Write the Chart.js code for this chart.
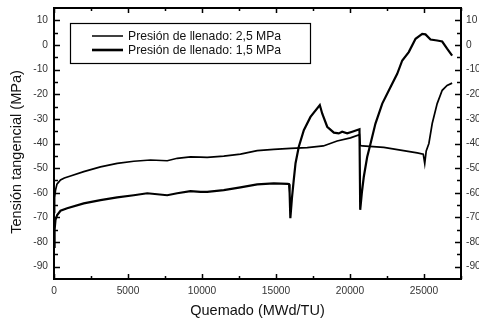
<!DOCTYPE html>
<html>
<head>
<meta charset="utf-8">
<script src="https://cdn.jsdelivr.net/npm/chart.js@4/dist/chart.umd.min.js"></script>
<style>
  html, body { margin: 0; padding: 0; background: #fff; }
  #wrap { width: 479px; height: 322px; }
</style>
</head>
<body>
<div id="wrap"><canvas id="c" width="479" height="322"></canvas></div>
<script>
// Tangential cladding stress vs. burnup for two fill pressures
const burnup25 = [0, 40, 100, 200, 440, 700, 1115, 2010, 3140, 4270, 5390, 6520, 7650, 8325, 9220, 9900,
  10350, 11470, 12600, 13730, 14850, 15980, 17110, 18200, 19130, 20030, 20640, 20700, 20830, 22285,
  23410, 24540, 24950, 25050, 25150, 25330, 25555, 25890, 26230, 26560, 26900];
const stress25 = [-68, -62, -59, -56.5, -54.8, -54, -53.2, -51.4, -49.5, -48.1, -47.2, -46.7, -47, -46, -45.4, -45.5,
  -45.6, -45.1, -44.3, -42.9, -42.4, -42.0, -41.7, -41.0, -39.0, -37.7, -36.4, -40.8, -41.0, -41.6,
  -42.7, -43.8, -44.3, -48.1, -43, -40, -31.9, -23.8, -18.4, -16.4, -15.5];

const burnup15 = [0, 40, 100, 215, 440, 890, 2010, 3140, 4270, 5390, 6300, 7650, 8325, 9220, 9900,
  10350, 11470, 12600, 13730, 14850, 15800, 15880, 15920, 15970, 16080, 16200, 16320, 16540, 16880,
  17330, 17960, 18120, 18460, 18910, 19240, 19470, 19810, 20150, 20640, 20690, 20800, 20930, 21160,
  21390, 21720, 22180, 22740, 23190, 23530, 23970, 24430, 24880, 25100, 25440, 25890, 26230, 26560, 26900];
const stress15 = [-82, -75, -71, -69, -67.3, -66.3, -64.3, -63.0, -61.9, -61.0, -60.2, -61.0, -60.2, -59.3, -59.6,
  -59.6, -58.9, -57.8, -56.6, -56.2, -56.4, -56.5, -60, -70.3, -62, -54.8, -48, -41.3, -34.6,
  -29.2, -24.4, -27.8, -33.2, -35.6, -35.9, -35.2, -35.9, -35.2, -34.2, -66.9, -60, -53.6, -45.5,
  -40, -31.9, -23.8, -17.1, -11.7, -6.3, -2.9, 2.5, 4.5, 4.3, 2.2, 1.8, 1.4, -1.5, -4.3];

const seriesLabels = ['Presión de llenado: 2,5 MPa', 'Presión de llenado: 1,5 MPa'];
const xTitle = 'Quemado (MWd/TU)';
const yTitle = 'Tensión tangencial (MPa)';
const xTicks = [0, 5000, 10000, 15000, 20000, 25000];
const yTicks = [-90, -80, -70, -60, -50, -40, -30, -20, -10, 0, 10];
const xMinorTicks = [2500, 7500, 12500, 17500, 22500, 27500];
const yMinorTicks = [-85, -75, -65, -55, -45, -35, -25, -15, -5, 5];
const xRange = [0, 27500];
const yRange = [-95, 15];

const FONT = "'Liberation Sans', Arial, sans-serif";
const toPoints = (xs, ys) => xs.map((x, i) => ({ x, y: ys[i] }));
const setTicks = values => (scale => { scale.ticks = values.map(v => ({ value: v })); });
const fitVertical = width => (s => { s.width = width; s.paddingTop = 0; s.paddingBottom = 0; });

// Frame, inward tick marks on all four sides, y-axis title and the boxed legend
const framePlugin = {
  id: 'frame',
  afterDatasetsDraw(chart) {
    const { ctx, chartArea: a, scales } = chart;
    const xs = scales.x, ys = scales.y;
    ctx.save();
    ctx.strokeStyle = '#000';
    ctx.lineWidth = 1.5;
    ctx.beginPath();
    const xMark = (v, len) => {
      const px = Math.round(xs.getPixelForValue(v)) + 0.5;
      ctx.moveTo(px, a.bottom); ctx.lineTo(px, a.bottom - len);
      ctx.moveTo(px, a.top); ctx.lineTo(px, a.top + len);
    };
    const yMark = (v, len) => {
      const py = Math.round(ys.getPixelForValue(v)) + 0.5;
      ctx.moveTo(a.left, py); ctx.lineTo(a.left + len, py);
      ctx.moveTo(a.right, py); ctx.lineTo(a.right - len, py);
    };
    xTicks.forEach(v => xMark(v, 5));
    xMinorTicks.forEach(v => xMark(v, 3));
    yTicks.forEach(v => yMark(v, 6));
    yMinorTicks.forEach(v => yMark(v, 4));
    ctx.stroke();
    ctx.lineWidth = 2;
    ctx.strokeRect(a.left, a.top, a.right - a.left, a.bottom - a.top);

    // y-axis title
    ctx.save();
    ctx.translate(17, 152);
    ctx.rotate(-Math.PI / 2);
    ctx.fillStyle = '#111';
    ctx.font = '14.5px ' + FONT;
    ctx.textAlign = 'center';
    ctx.textBaseline = 'middle';
    ctx.fillText(yTitle, 0, 0);
    ctx.restore();

    // legend
    const bx = 70.5, by = 23.5, bw = 240, bh = 40;
    ctx.fillStyle = '#fff';
    ctx.fillRect(bx, by, bw, bh);
    ctx.lineWidth = 1.2;
    ctx.strokeRect(bx, by, bw, bh);
    const rows = [36, 50];
    chart.data.datasets.forEach((ds, i) => {
      ctx.strokeStyle = '#000';
      ctx.lineWidth = i === 0 ? 1.5 : 2.6;
      ctx.beginPath();
      ctx.moveTo(92, rows[i]); ctx.lineTo(123, rows[i]);
      ctx.stroke();
      ctx.fillStyle = '#111';
      ctx.font = '12.2px ' + FONT;
      ctx.textBaseline = 'middle';
      ctx.textAlign = 'left';
      ctx.fillText(ds.label, 128, rows[i] + 0.5);
    });
    ctx.restore();
  }
};

const tickFont = { family: FONT, size: 10.2 };

new Chart(document.getElementById('c'), {
  type: 'line',
  data: {
    datasets: [
      { label: seriesLabels[0], data: toPoints(burnup25, stress25), borderColor: '#000',
        borderWidth: 1.7, pointRadius: 0, tension: 0, fill: false },
      { label: seriesLabels[1], data: toPoints(burnup15, stress15), borderColor: '#000',
        borderWidth: 2.2, pointRadius: 0, tension: 0, fill: false }
    ]
  },
  options: {
    responsive: false,
    animation: false,
    devicePixelRatio: 1,
    layout: { padding: { top: 8, left: 0, right: 0, bottom: 0 } },
    plugins: { legend: { display: false }, tooltip: { enabled: false } },
    scales: {
      x: {
        type: 'linear', position: 'bottom', min: xRange[0], max: xRange[1],
        grid: { display: false, drawTicks: false },
        border: { display: false },
        ticks: { padding: 6, color: '#333', font: tickFont, maxRotation: 0, autoSkip: false,
          callback: v => String(v) },
        afterBuildTicks: setTicks(xTicks),
        afterFit: s => { s.height = 43; s.paddingLeft = 0; s.paddingRight = 0; },
        title: { display: true, text: xTitle, color: '#111', font: { family: FONT, size: 14.5 },
          padding: { top: 0, bottom: 2 } }
      },
      y: {
        type: 'linear', position: 'left', min: yRange[0], max: yRange[1],
        grid: { display: false, drawTicks: false },
        border: { display: false },
        ticks: { padding: 6, color: '#333', font: tickFont, autoSkip: false,
          callback: v => String(v) },
        afterBuildTicks: setTicks(yTicks),
        afterFit: fitVertical(54)
      },
      y2: {
        type: 'linear', position: 'right', min: yRange[0], max: yRange[1],
        grid: { display: false, drawTicks: false },
        border: { display: false },
        ticks: { padding: 5, color: '#333', font: tickFont, autoSkip: false,
          callback: v => String(v) },
        afterBuildTicks: setTicks(yTicks),
        afterFit: fitVertical(18)
      }
    }
  },
  plugins: [framePlugin]
});
</script>
</body>
</html>
